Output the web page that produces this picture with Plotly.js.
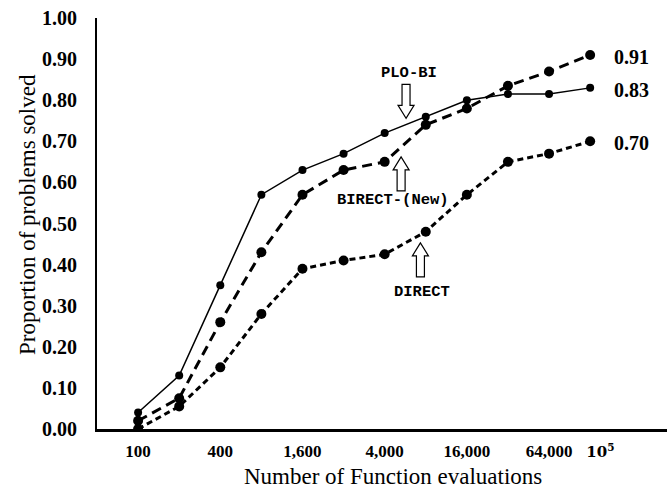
<!DOCTYPE html>
<html><head><meta charset="utf-8">
<script src="https://cdn.plot.ly/plotly-3.0.1.min.js"></script>
<style>body{margin:0;background:#fff}#chart{width:667px;height:490px}</style>
</head><body><div id="chart"></div>
<script>
// Evaluation step index (category positions)
const steps = [0,1,2,3,4,5,6,7,8,9,10,11];
const tickPos = [0,2,4,6,8,10,11.25];
const tickLabels = ["100","400","1,600","4,000","16,000","64,000",
  "<span style=\"font-family:DejaVu Serif;font-size:15px\">10<sup>5</sup></span>"];

const ploBI  = [0.04,0.13,0.35,0.57,0.63,0.67,0.72,0.76,0.80,0.815,0.815,0.83];
const birect = [0.02,0.075,0.26,0.43,0.57,0.63,0.65,0.74,0.78,0.835,0.87,0.91];
const direct = [0.00,0.055,0.15,0.28,0.39,0.41,0.425,0.48,0.57,0.65,0.67,0.70];

const xTitle = 'Number of Function evaluations';
const yTitle = 'Proportion of problems solved';

const serif = "Liberation Serif, Times New Roman, serif";
const mono = "Liberation Mono, Courier New, monospace";

const traces = [
  {x:steps, y:ploBI, mode:'lines+markers', name:'PLO-BI',
   line:{color:'#000', width:1.5}, marker:{color:'#000', size:8}},
  {x:steps, y:birect, mode:'lines+markers', name:'BIRECT-(New)',
   line:{color:'#000', width:3, dash:'10px,6px'}, marker:{color:'#000', size:10}},
  {x:steps, y:direct, mode:'lines+markers', name:'DIRECT',
   line:{color:'#000', width:3, dash:'6px,4px'}, marker:{color:'#000', size:10}}
];

const last = steps.length - 1;
const endLabels = [birect, ploBI, direct].map((s, i) => ({
  x: steps[last] + 1.0, y: s[last], xref:'x', yref:'y', showarrow:false,
  text: s[last].toFixed(2), yshift: -2,
  font:{family:serif, size:20, color:'#000', weight:'bold'}
}));

const textNotes = [
  {x:6.6, y:0.865, text:'PLO-BI'},
  {x:6.2, y:0.558, text:'BIRECT-(New)'},
  {x:6.92, y:0.334, text:'DIRECT'}
].map(a => ({...a, xref:'x', yref:'y', showarrow:false,
  font:{family:mono, size:15.5, color:'#000', weight:'bold'}}));

const titles = [
  {x:(393-97)/570, y:-47/411, xref:'paper', yref:'paper', text:xTitle, showarrow:false,
   xanchor:'center', yanchor:'middle', font:{family:serif, size:23, color:'#000'}},
  {x:-70/570, y:(429-215)/411, xref:'paper', yref:'paper', text:yTitle, showarrow:false,
   textangle:-90, xanchor:'center', yanchor:'middle', font:{family:serif, size:23, color:'#000'}}
];

function arrowPath(down){
  // hollow block arrow, tip at anchor, pixel units
  const s = down ? 1 : -1;
  return `M0,0 L-8,${13*s} L-4,${13*s} L-4,${34*s} L4,${34*s} L4,${13*s} L8,${13*s} Z`;
}
const arrows = [
  {xa:6.52, ya:0.756, down:true},
  {xa:6.40, ya:0.662, down:false},
  {xa:6.87, ya:0.453, down:false}
].map(a => ({type:'path', xref:'x', yref:'y', xsizemode:'pixel', ysizemode:'pixel',
  xanchor:a.xa, yanchor:a.ya, path:arrowPath(a.down),
  fillcolor:'#fff', line:{color:'#000', width:1.2}}));

const layout = {
  width:667, height:490,
  margin:{l:97, r:0, t:18, b:61},
  paper_bgcolor:'#fff', plot_bgcolor:'#fff',
  showlegend:false,
  xaxis:{range:[-1, 12.87], showgrid:false, zeroline:false,
    showline:true, linecolor:'#000', linewidth:2.5,
    tickmode:'array', tickvals:tickPos, ticktext:tickLabels, ticks:'',
    ticklabelstandoff:5,
    tickfont:{family:serif, size:17, color:'#000', weight:'bold'}},
  yaxis:{range:[0,1], showgrid:false, zeroline:false,
    showline:true, linecolor:'#000', linewidth:2,
    tickmode:'array', tickvals:[0,0.1,0.2,0.3,0.4,0.5,0.6,0.7,0.8,0.9,1.0],
    tickformat:'.2f', ticks:'', ticklabelstandoff:14,
    tickfont:{family:serif, size:20, color:'#000', weight:'bold'}},
  annotations:[...endLabels, ...textNotes, ...titles],
  shapes:arrows
};

Plotly.newPlot('chart', traces, layout, {displayModeBar:false, staticPlot:true});
</script></body></html>
